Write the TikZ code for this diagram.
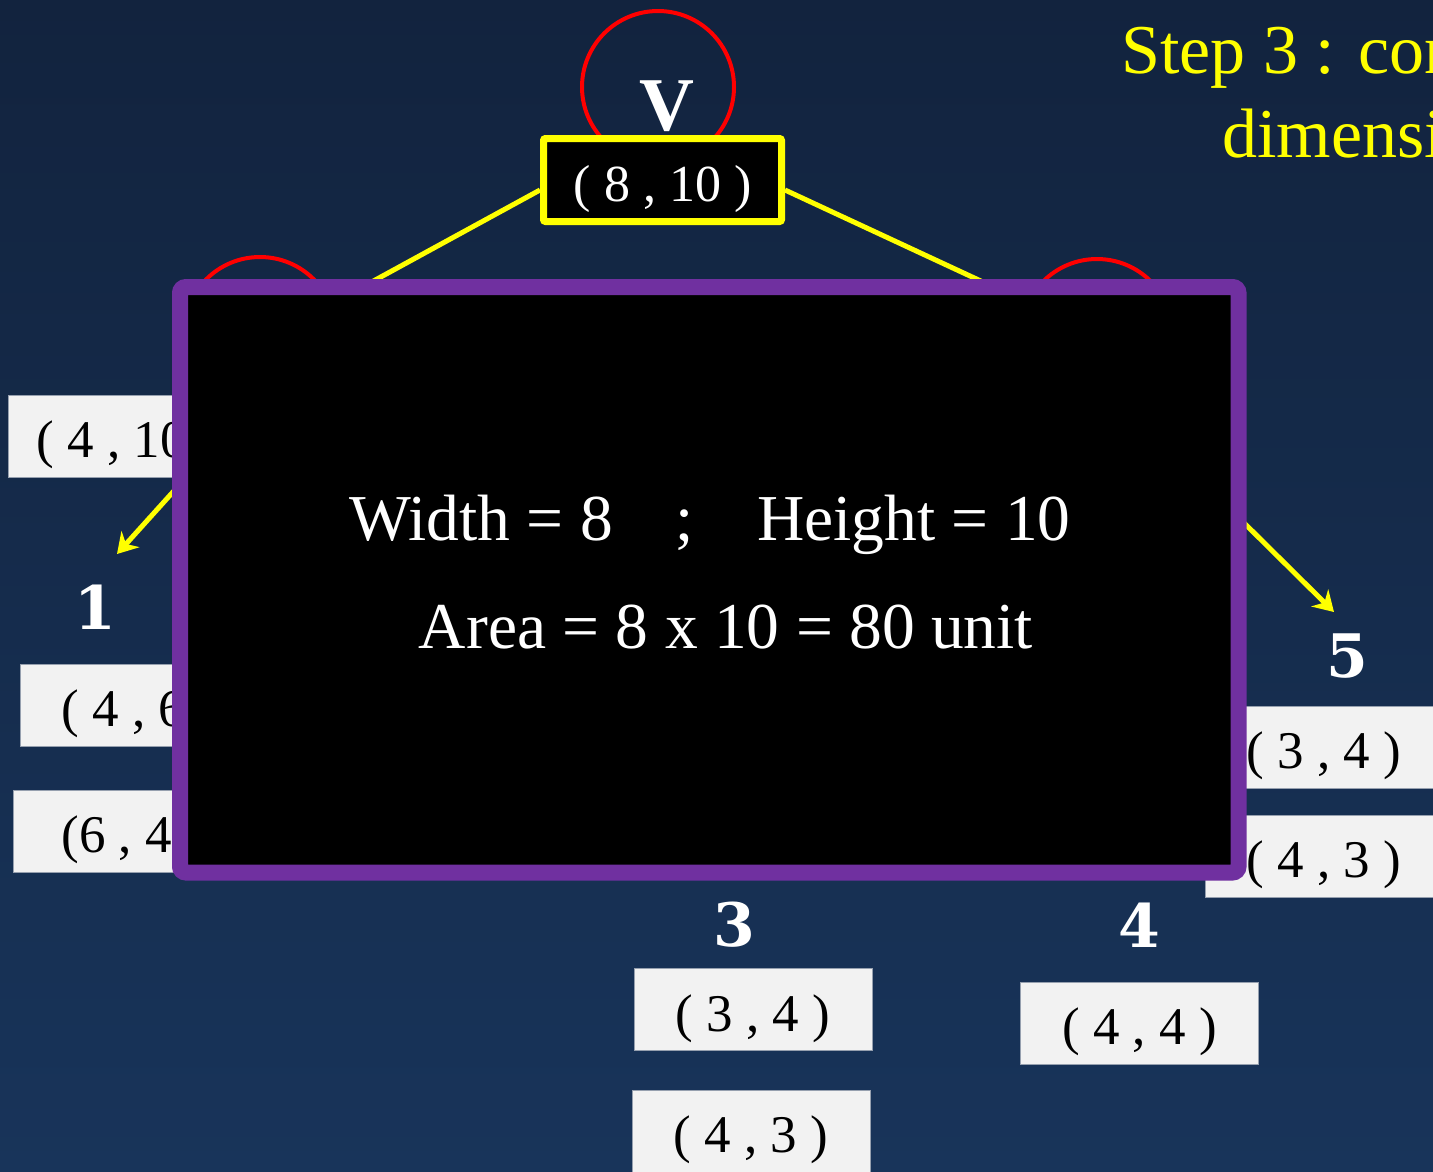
\documentclass[tikz,border=0pt]{standalone}
\usepackage{fontspec}
\setmainfont{Liberation Serif}
\newfontfamily\lblfont{DejaVu Serif}
\usetikzlibrary{arrows.meta}
\definecolor{bgtop}{RGB}{18,35,62}
\definecolor{bgbot}{RGB}{24,52,90}
\definecolor{boxgray}{RGB}{242,242,242}
\definecolor{boxedge}{RGB}{150,160,175}
\definecolor{purp}{RGB}{112,48,160}
\definecolor{yel}{RGB}{255,255,0}
\pgfdeclarelayer{bg}
\pgfdeclarelayer{lines}
\pgfsetlayers{bg,lines,main}
\begin{document}
\begin{tikzpicture}[x=1pt,y=-1pt,
 coordbox/.style={fill=boxgray,draw=boxedge,line width=0.8pt,minimum width=238pt,minimum height=82pt,inner sep=0pt,text height=43pt,text depth=0pt,font=\fontsize{53}{60}\selectfont,text=black},
 numlbl/.style={text=white,font=\lblfont\bfseries\fontsize{60}{70}\selectfont,inner sep=0pt},
 ycon/.style={draw=yel,line width=5pt},
 yarrow/.style={draw=yel,line width=5pt,-{Stealth[length=20pt,width=24pt]}},
 redcirc/.style={circle,draw=red,line width=4pt,minimum size=152pt,inner sep=0pt},
 maintext/.style={text=white,font=\fontsize{65.5}{70}\selectfont,anchor=base,inner sep=0pt},
 titletext/.style={text=yel,font=\fontsize{70}{80}\selectfont,anchor=base west,inner sep=0pt}]
\clip (0,0) rectangle (1433,1171);
\useasboundingbox (0,0) rectangle (1433,1171);
\begin{pgfonlayer}{bg}
\shade[top color=bgtop,bottom color=bgbot] (0,0) rectangle (1433,1171);
\end{pgfonlayer}
% circles
\node[redcirc] (vc) at (658,87) {};
\node[redcirc] (lc) at (260,333) {};
\node[redcirc] (rc) at (1097,335) {};
\node[text=white,font=\bfseries\fontsize{76}{80}\selectfont,inner sep=0pt] (vl) at (667,106) {V};
\node[draw=yel,fill=black,line width=7pt,rounded corners=2pt,minimum width=238pt,minimum height=83pt,inner sep=0pt,text height=42pt,text depth=0pt,text=white,font=\fontsize{52}{60}\selectfont] (vbox) at (662.5,180) {( 8 , 10 )};
\begin{pgfonlayer}{lines}
\draw[ycon] ([yshift=-10pt]vbox.west) -- ([yshift=-10pt]lc.center);
\draw[ycon] ([yshift=-10pt]vbox.east) -- (rc.center);
\end{pgfonlayer}
% coordinate boxes
\node[coordbox] (b410) at (127,436) {( 4 , 10 )};
\node[coordbox] (b46) at (139,705) {( 4 , 6 )};
\node[coordbox] (b64) at (132,831) {(6 , 4 )};
\node[coordbox] (r34) at (1324,747) {( 3 , 4 )};
\node[coordbox] (r43) at (1324,856) {( 4 , 3 )};
\node[coordbox] (b34) at (753,1009.5) {( 3 , 4 )};
\node[coordbox] (b43) at (751,1131) {( 4 , 3 )};
\node[coordbox] (b44) at (1139.5,1023) {( 4 , 4 )};
% number labels
\node[numlbl] (n1) at (95,607) {1};
\node[numlbl] (n5) at (1347,656) {5};
\node[numlbl] (n3) at (734,925) {3};
\node[numlbl] (n4) at (1139,925) {4};
% arrows
\coordinate (a1s) at (200,462);
\coordinate (a1e) at (117,554);
\coordinate (a5s) at (1230,509);
\coordinate (a5e) at (1334,612);
\draw[yarrow] (a1s) -- (a1e);
\draw[yarrow] (a5s) -- (a5e);
% overlay box
\node[draw=purp,fill=black,line width=16pt,rounded corners=6pt,minimum width=1058.5pt,minimum height=585.5pt,inner sep=0pt] (pbox) at (709.25,579.75) {};
\node[maintext] (t1) at (710,540) {Width = 8\hspace{63pt};\hspace{63pt}Height = 10};
\node[maintext] (t2) at (726,648) {Area = 8 x 10 = 80 unit};
% title
\node[titletext] (title1) at (1121,73) {Step 3 : con};
\node[titletext] (title2) at (1222,157) {dimensio};
\end{tikzpicture}
\end{document}
